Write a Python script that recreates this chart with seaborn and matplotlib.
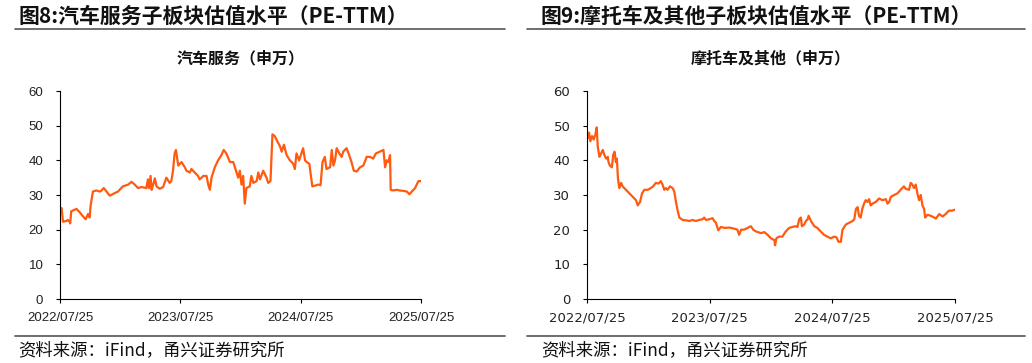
import pandas as pd
import matplotlib
matplotlib.use("Agg")
import matplotlib.pyplot as plt
import seaborn as sns

# 日期偏移（自 2022/07/25 起的天数）与 PE-TTM 数值
start_date = "2022-07-25"
tick_labels = ["2022/07/25", "2023/07/25", "2024/07/25", "2025/07/25"]

auto_days = [0, 5, 9, 19, 24, 29, 31, 34, 45, 50, 60, 70, 78, 85, 90, 93, 100, 110, 121, 126,
             133, 141, 151, 161, 176, 191, 207, 217, 227, 237, 247, 262, 267, 270, 275, 278, 283,
             288, 293, 303, 313, 323, 333, 338, 343, 348, 352, 359, 369, 379, 384, 394, 399, 409,
             419, 424, 435, 445, 450, 455, 460, 470, 480, 490, 497, 505, 516, 526, 536, 541, 546,
             551, 556, 561, 566, 576, 581, 587, 597, 602, 607, 617, 627, 632, 639, 645, 652, 657,
             668, 673, 680, 688, 698, 708, 713, 718, 726, 733, 738, 744, 749, 757, 761, 766, 774,
             784, 791, 797, 804, 809, 820, 825, 830, 835, 840, 848, 855, 860, 870, 878, 885, 892,
             901, 911, 921, 931, 941, 951, 959, 971, 982, 987, 992, 997, 1002, 1004, 1012, 1022,
             1032, 1042, 1053, 1061, 1068, 1078, 1088, 1096]
auto_pe = [26.3, 26.2, 22.3, 22.5, 22.8, 22.3, 21.8, 25.3, 25.8, 26.0, 25.0, 23.8, 23.0, 24.5,
           23.5, 27.0, 31.0, 31.3, 31.0, 31.3, 32.0, 31.0, 29.8, 30.3, 31.0, 32.5, 33.0, 33.8,
           33.0, 32.0, 32.3, 32.0, 34.5, 32.0, 35.5, 31.5, 33.0, 34.8, 32.5, 31.8, 32.3, 35.0,
           33.5, 34.0, 37.0, 42.0, 43.0, 38.5, 39.5, 38.0, 37.0, 36.5, 37.5, 36.5, 35.5, 34.5,
           35.5, 35.5, 33.0, 31.5, 35.0, 38.0, 40.0, 41.5, 43.0, 42.0, 39.5, 39.5, 36.5, 35.0,
           37.0, 33.0, 35.5, 27.5, 32.0, 32.5, 35.5, 33.5, 34.0, 36.5, 34.5, 37.0, 35.0, 33.5,
           34.0, 47.5, 47.0, 46.0, 44.0, 42.5, 44.5, 41.5, 40.0, 39.0, 37.5, 42.0, 40.0, 42.0,
           43.5, 40.0, 39.5, 39.0, 36.0, 32.5, 32.7, 33.0, 32.8, 39.5, 41.0, 37.5, 38.0, 43.0,
           38.5, 40.0, 43.5, 42.0, 41.0, 42.5, 43.5, 41.5, 39.5, 37.0, 36.8, 38.0, 38.5, 41.0,
           41.0, 40.5, 42.0, 42.5, 43.0, 38.0, 40.0, 39.5, 41.5, 31.5, 31.3, 31.5, 31.3, 31.2,
           31.0, 30.2, 31.0, 32.0, 34.0, 34.0]

moto_days = [0, 3, 6, 10, 15, 20, 25, 29, 32, 37, 42, 47, 52, 57, 62, 64, 68, 74, 78, 82, 86,
             89, 92, 96, 102, 106, 116, 126, 136, 146, 151, 158, 164, 171, 181, 190, 197, 205,
             213, 220, 225, 230, 235, 240, 247, 255, 260, 265, 270, 275, 285, 295, 305, 314, 324,
             334, 344, 349, 354, 364, 374, 379, 384, 391, 399, 409, 424, 438, 448, 453, 459, 468,
             478, 488, 495, 503, 518, 528, 538, 548, 558, 560, 564, 572, 582, 592, 602, 612, 622,
             627, 632, 637, 640, 647, 652, 657, 660, 667, 677, 686, 696, 706, 716, 726, 736, 743,
             749, 756, 761, 771, 781, 791, 796, 801, 806, 810, 815, 820, 825, 830, 835, 840, 845,
             850, 860, 870, 880, 890, 895, 900, 905, 915, 925, 934, 944, 949, 959, 964, 969, 974,
             979, 984, 989, 994, 999, 1004, 1007, 1014, 1024, 1034, 1039, 1049, 1059, 1068, 1078,
             1088, 1096]
moto_pe = [48.0, 46.5, 48.0, 45.5, 47.0, 46.0, 47.5, 49.5, 44.0, 41.0, 42.0, 43.0, 41.5, 40.5,
           41.0, 39.5, 38.5, 38.0, 41.5, 42.5, 39.5, 40.5, 35.0, 32.0, 33.5, 32.5, 31.5, 30.5,
           29.5, 28.5, 27.0, 28.0, 30.5, 31.5, 31.5, 32.0, 32.5, 33.5, 33.3, 34.0, 33.0, 31.5,
           32.0, 31.5, 32.5, 32.0, 31.0, 28.0, 25.5, 23.5, 22.8, 22.7, 22.5, 22.8, 22.5, 22.8,
           23.0, 23.5, 22.8, 23.0, 23.3, 22.5, 22.0, 19.8, 20.8, 20.5, 20.6, 20.3, 20.0, 18.5,
           20.0, 20.0, 20.5, 21.0, 20.0, 19.5, 19.0, 19.3, 18.5, 17.5, 17.0, 15.5, 17.5, 18.0,
           18.0, 19.5, 20.5, 20.8, 21.0, 20.8, 23.0, 23.5, 21.0, 21.5, 22.5, 23.0, 24.0, 22.5,
           21.0, 20.5, 19.5, 18.5, 18.0, 17.5, 18.0, 17.8, 16.5, 16.5, 20.0, 21.5, 22.0, 22.5,
           23.0, 26.0, 26.5, 24.0, 23.5, 26.0, 27.5, 28.5, 28.0, 28.8, 27.0, 27.5, 28.0, 29.0,
           28.5, 28.8, 27.5, 28.0, 29.5, 30.0, 30.5, 31.5, 32.5, 31.8, 31.5, 33.5, 33.0, 32.0,
           33.0, 30.5, 28.5, 30.0, 27.0, 26.0, 23.5, 24.3, 24.0, 23.5, 23.2, 24.5, 23.8, 24.5,
           25.5, 25.5, 25.8]

df_auto = pd.DataFrame({
    "date": pd.Timestamp(start_date) + pd.to_timedelta(auto_days, unit="D"),
    "pe": auto_pe,
})
df_moto = pd.DataFrame({
    "date": pd.Timestamp(start_date) + pd.to_timedelta(moto_days, unit="D"),
    "pe": moto_pe,
})

sns.set_style("ticks")
plt.rcParams["font.family"] = ["Noto Sans CJK SC", "DejaVu Sans"]

line_color = "#FF5A0F"
cjk = ["Noto Sans CJK SC", "DejaVu Sans"]

fig = plt.figure(figsize=(10.32, 3.63), dpi=100)

panels = [
    (df_auto, [60 / 1032, 0.1763, 361 / 1032, 0.573], "汽车服务（申万）",
     "图8:汽车服务子板块估值水平（PE-TTM）", 18 / 1032, 15 / 1032, 505 / 1032, "Liberation Sans"),
    (df_moto, [587 / 1032, 0.1763, 368 / 1032, 0.573], "摩托车及其他（申万）",
     "图9:摩托车及其他子板块估值水平（PE-TTM）", 541 / 1032, 527 / 1032, 1025 / 1032, "DejaVu Sans"),
]

tick_dates = pd.to_datetime(tick_labels, format="%Y/%m/%d")

for df, rect, subtitle, title, tx, lx0, lx1, tick_font in panels:
    ax = fig.add_axes(rect)
    sns.lineplot(data=df, x="date", y="pe", ax=ax, color=line_color, linewidth=1.6)
    ax.set_ylim(0, 60)
    ax.set_yticks(range(0, 61, 10))
    ax.set_xlim(tick_dates[0], tick_dates[-1])
    ax.set_xticks(tick_dates)
    ax.set_xticklabels(tick_labels)
    ax.set_xlabel("")
    ax.set_ylabel("")
    ax.tick_params(axis="y", length=3, pad=9, labelsize=9.5, color="black")
    ax.tick_params(axis="x", length=3, pad=6, labelsize=9.5, color="black")
    for lab in ax.get_xticklabels() + ax.get_yticklabels():
        lab.set_fontfamily(tick_font)
        lab.set_color("#222222")
    sns.despine(ax=ax)
    for s in ["left", "bottom"]:
        ax.spines[s].set_color("black")
        ax.spines[s].set_linewidth(0.8)
    ax.set_title(subtitle, fontsize=11.5, fontweight="semibold", family=cjk, pad=20, color="#111111")

    fig.text(tx, 1 - 16 / 363, title, fontsize=15, fontweight="bold", family=cjk,
             ha="left", va="center", color="#111111")
    fig.add_artist(plt.Line2D([lx0, lx1], [1 - 29 / 363, 1 - 29 / 363], color="#555555", linewidth=1.2))
    fig.add_artist(plt.Line2D([lx0, lx1], [1 - 336 / 363, 1 - 336 / 363], color="#555555", linewidth=1.2))
    fig.text(tx, 1 - 350 / 363, "资料来源：iFind，甬兴证券研究所", fontsize=12.5, family=cjk,
             style="italic", ha="left", va="center", color="#111111")

fig.savefig("out.png", dpi=100)
